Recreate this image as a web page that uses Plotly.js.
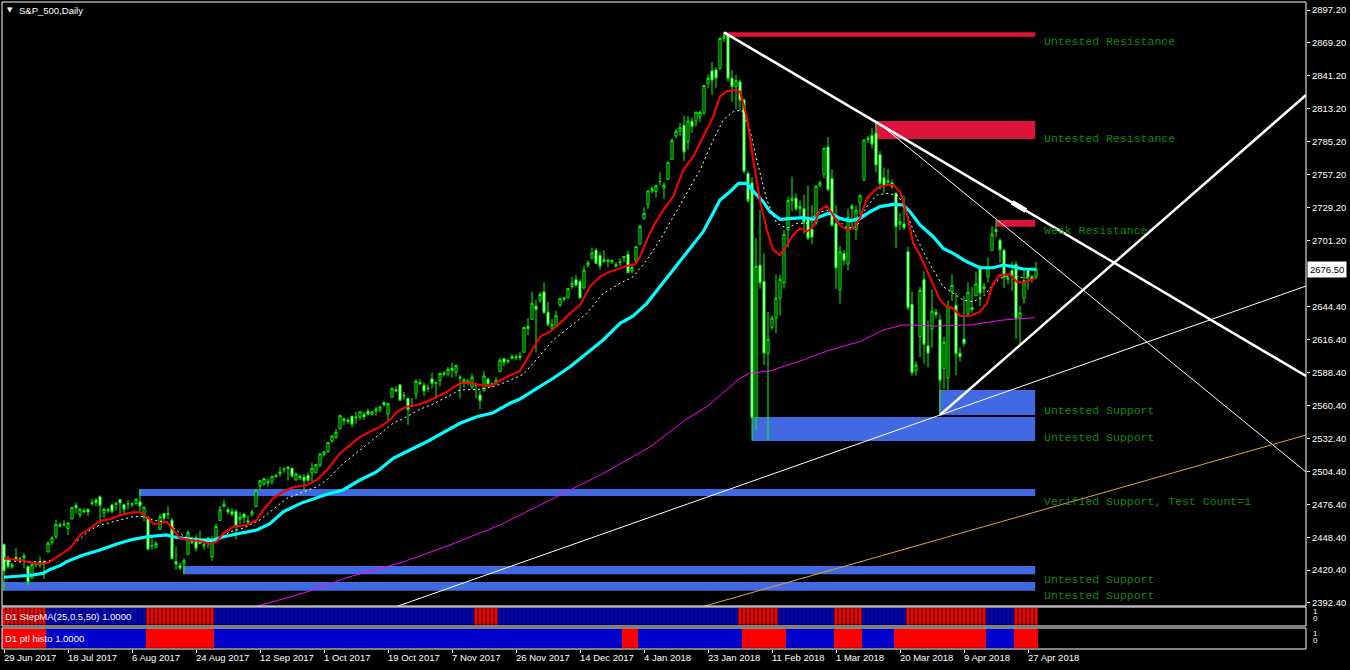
<!DOCTYPE html>
<html><head><meta charset="utf-8">
<script src="https://cdn.plot.ly/plotly-3.0.1.min.js"></script>
<style>html,body{margin:0;padding:0;background:#000;}#chart{width:1350px;height:670px;}</style>
</head><body><div id="chart"></div>
<script>
// ---------- DATA ----------
const openP = [
2442.4,2429.2,2423.0,2431.4,2429.0,2430.8,2423.4,2413.5,2425.0,2424.5,
2427.4,2435.8,2444.0,2449.2,2459.0,2459.5,2455.9,2463.9,2475.6,2467.4,
2471.0,2472.0,2477.9,2480.0,2482.8,2469.1,2471.0,2475.9,2477.1,2480.4,
2476.0,2476.9,2476.0,2477.1,2478.4,2465.4,2465.4,2441.0,2440.0,2455.0,
2468.7,2468.6,2462.9,2427.6,2424.0,2425.5,2433.8,2444.9,2447.9,2444.7,
2441.0,2447.4,2431.9,2446.1,2462.7,2474.4,2472.0,2470.0,2470.4,2463.8,
2468.1,2462.3,2468.0,2474.5,2491.9,2493.9,2494.6,2495.7,2500.0,2502.5,
2506.3,2506.8,2507.2,2497.3,2500.0,2499.4,2501.0,2503.3,2503.4,2509.9,
2519.0,2521.2,2530.3,2533.5,2540.9,2547.4,2548.0,2551.4,2550.0,2550.6,
2552.9,2555.7,2553.0,2555.6,2557.2,2562.9,2553.4,2567.6,2574.0,2578.1,
2568.7,2566.5,2560.1,2570.3,2580.0,2577.8,2575.0,2583.2,2579.5,2581.9,
2587.0,2587.5,2592.1,2588.7,2584.0,2580.2,2581.0,2576.5,2577.8,2569.5,
2573.0,2582.9,2578.0,2579.5,2589.2,2600.3,2598.0,2600.4,2601.0,2602.7,
2605.9,2627.8,2633.9,2645.1,2650.0,2657.2,2639.8,2626.2,2628.4,2646.2,
2651.0,2652.2,2661.7,2667.6,2665.9,2660.6,2680.0,2685.9,2692.7,2688.2,
2683.0,2684.2,2683.0,2679.1,2682.1,2686.1,2689.2,2675.0,2683.7,2697.9,
2719.3,2731.3,2743.0,2742.7,2751.2,2745.6,2753.0,2770.2,2790.0,2794.0,
2799.0,2785.0,2802.4,2802.6,2806.0,2809.2,2835.0,2845.4,2846.2,2847.5,
2873.0,2875.0,2839.0,2832.0,2836.0,2820.6,2758.0,2750.0,2550.0,2680.0,
2666.0,2605.0,2627.0,2635.0,2652.0,2665.0,2710.0,2735.0,2737.0,2728.0,
2728.0,2720.5,2710.4,2715.8,2748.0,2757.4,2780.5,2753.8,2715.2,2658.9,
2690.0,2681.0,2730.2,2710.2,2732.8,2752.9,2787.0,2790.5,2792.3,2774.1,
2754.3,2750.6,2750.0,2741.4,2715.0,2715.0,2691.4,2646.7,2590.0,2619.4,
2667.6,2611.3,2625.5,2640.0,2633.5,2592.2,2584.0,2657.4,2645.8,2605.0,
2617.2,2638.4,2643.9,2653.8,2676.9,2660.0,2670.1,2692.7,2710.1,2701.2,
2692.6,2668.0,2675.4,2680.8,2634.9,2651.7,2675.5,2668.0,2670.0];
const highP = [
2442.7,2432.7,2426.5,2439.2,2431.5,2434.9,2424.3,2426.9,2427.0,2432.0,
2429.3,2445.0,2449.3,2463.5,2461.0,2462.8,2460.9,2473.8,2477.6,2472.5,
2473.0,2473.1,2481.2,2481.7,2484.0,2473.5,2473.0,2477.0,2478.5,2480.4,
2476.3,2480.0,2478.0,2481.0,2489.5,2474.4,2465.4,2448.1,2445.0,2468.2,
2468.9,2474.9,2465.0,2440.3,2427.0,2430.6,2454.8,2448.9,2450.4,2454.0,
2444.0,2449.1,2449.2,2460.3,2475.0,2480.4,2474.0,2473.0,2472.0,2469.6,
2468.6,2467.1,2472.0,2489.0,2496.8,2498.4,2498.4,2500.2,2502.0,2508.3,
2507.8,2508.9,2507.2,2503.5,2502.0,2502.5,2503.5,2511.8,2510.8,2519.4,
2522.0,2529.2,2535.1,2540.5,2552.5,2549.4,2550.0,2551.8,2555.2,2555.2,
2555.3,2557.7,2556.0,2559.5,2559.7,2564.1,2562.4,2575.4,2577.0,2578.3,
2572.2,2567.4,2567.1,2583.0,2583.0,2580.0,2578.3,2588.4,2581.1,2588.4,
2590.0,2593.4,2597.0,2595.5,2586.5,2583.8,2583.0,2587.7,2579.7,2572.8,
2590.1,2584.0,2580.0,2584.6,2601.2,2600.9,2600.0,2604.2,2604.0,2606.4,
2627.7,2634.9,2657.7,2650.6,2657.0,2665.2,2648.7,2634.4,2641.0,2651.7,
2653.0,2660.3,2669.7,2671.9,2668.1,2679.6,2684.0,2695.0,2694.4,2691.0,
2692.6,2685.4,2685.0,2682.7,2685.6,2687.7,2692.1,2680.0,2695.9,2714.4,
2729.3,2743.5,2747.0,2748.5,2759.1,2750.8,2767.6,2787.9,2796.0,2801.0,
2807.5,2807.0,2805.8,2810.3,2812.0,2833.0,2842.2,2853.0,2848.6,2874.0,
2878.2,2876.5,2846.0,2842.0,2838.0,2822.0,2760.0,2755.0,2703.0,2727.0,
2690.0,2640.0,2637.0,2672.0,2672.0,2710.0,2738.0,2755.3,2741.0,2735.0,
2740.0,2747.8,2731.3,2747.8,2752.0,2780.0,2789.2,2761.5,2730.9,2696.3,
2693.0,2728.1,2732.1,2730.6,2740.5,2786.6,2790.0,2797.0,2802.7,2777.1,
2763.0,2761.9,2753.0,2741.4,2724.2,2739.1,2695.7,2657.7,2598.0,2661.4,
2674.8,2632.7,2659.4,2643.0,2638.3,2619.1,2649.9,2672.1,2656.9,2610.0,
2653.6,2665.5,2661.4,2674.7,2680.3,2665.0,2686.5,2713.3,2718.4,2702.8,
2693.9,2672.0,2682.9,2683.6,2645.3,2676.5,2677.4,2672.0,2682.9];
const lowP = [
2403.0,2421.6,2421.5,2428.7,2426.0,2422.2,2407.7,2413.5,2423.0,2422.3,
2412.8,2435.8,2441.7,2446.7,2457.0,2457.2,2450.3,2463.9,2468.4,2465.1,
2469.0,2466.3,2474.9,2474.9,2459.9,2464.7,2469.0,2468.5,2471.1,2466.5,
2468.9,2472.1,2474.0,2475.9,2470.3,2462.1,2437.8,2437.9,2439.0,2455.0,
2461.6,2463.9,2430.0,2420.7,2420.0,2417.0,2433.7,2442.4,2436.2,2442.2,
2438.0,2439.0,2428.2,2443.8,2462.7,2473.9,2468.0,2466.0,2446.6,2459.2,
2460.3,2459.4,2466.0,2474.5,2488.1,2492.1,2491.4,2493.2,2499.0,2499.9,
2503.2,2496.7,2499.0,2496.1,2497.0,2488.0,2495.0,2495.9,2502.9,2507.8,
2517.0,2520.4,2528.9,2531.8,2540.0,2543.8,2545.0,2541.8,2544.9,2548.0,
2548.3,2552.1,2552.0,2551.9,2554.7,2559.2,2547.9,2567.6,2572.0,2564.3,
2565.6,2544.0,2559.4,2565.9,2578.0,2568.4,2572.2,2574.9,2566.2,2576.8,
2585.0,2585.7,2584.1,2585.0,2566.3,2575.6,2578.0,2574.5,2566.6,2557.5,
2573.0,2576.0,2576.0,2578.2,2589.2,2593.9,2596.0,2600.4,2599.0,2598.9,
2605.4,2620.3,2633.9,2605.5,2648.0,2639.0,2627.7,2624.8,2628.4,2644.1,
2649.0,2651.5,2659.8,2662.9,2652.0,2659.1,2678.0,2685.9,2680.7,2676.1,
2682.4,2678.1,2681.0,2678.0,2678.9,2682.7,2673.6,2673.0,2682.4,2697.8,
2719.1,2727.9,2741.0,2737.6,2747.9,2736.1,2752.8,2769.6,2788.0,2790.0,
2768.6,2778.4,2792.6,2798.1,2802.0,2808.1,2830.6,2824.8,2830.9,2846.2,
2870.0,2836.0,2819.0,2813.0,2812.0,2758.0,2733.0,2530.5,2540.0,2660.0,
2595.0,2531.0,2625.0,2622.0,2637.0,2660.0,2695.0,2726.0,2726.0,2722.0,
2706.8,2701.3,2697.8,2714.0,2746.0,2753.8,2742.9,2713.5,2659.7,2647.3,
2680.0,2675.8,2711.3,2701.7,2722.7,2751.5,2784.0,2779.3,2758.7,2744.4,
2741.5,2749.0,2745.0,2694.6,2710.0,2709.8,2641.6,2585.9,2586.0,2601.8,
2596.1,2593.1,2609.7,2635.0,2552.5,2574.5,2573.6,2649.6,2586.3,2598.0,
2610.8,2635.8,2639.3,2653.8,2645.0,2656.0,2665.2,2692.0,2703.6,2681.9,
2660.6,2664.0,2657.9,2617.3,2612.7,2647.2,2659.0,2665.0,2668.0];
const closeP = [
2419.7,2423.4,2425.0,2429.0,2430.0,2432.5,2409.8,2425.2,2426.0,2427.4,
2425.5,2443.3,2447.8,2459.3,2458.0,2459.1,2460.6,2473.8,2473.5,2472.5,
2470.0,2469.9,2477.1,2477.8,2475.4,2472.1,2472.0,2470.3,2476.4,2477.6,
2472.2,2476.8,2477.0,2480.9,2474.9,2474.0,2438.2,2441.3,2443.0,2465.8,
2464.6,2468.1,2430.0,2425.6,2422.0,2428.4,2452.5,2444.0,2439.0,2443.0,
2442.0,2444.2,2446.3,2457.6,2471.7,2476.6,2470.0,2468.0,2457.9,2465.5,
2465.1,2461.4,2470.0,2488.1,2496.5,2498.4,2495.6,2500.2,2501.0,2503.9,
2506.7,2508.2,2500.6,2502.2,2499.0,2496.7,2496.8,2507.0,2510.1,2519.4,
2521.0,2529.1,2534.6,2537.7,2552.1,2549.3,2547.0,2544.7,2550.6,2555.2,
2550.9,2553.2,2555.0,2557.6,2559.4,2561.3,2562.1,2575.2,2573.0,2565.0,
2569.1,2557.2,2560.4,2581.1,2579.0,2572.8,2575.3,2579.4,2579.9,2587.8,
2588.0,2591.1,2590.6,2594.4,2584.6,2582.3,2580.0,2584.8,2578.9,2564.6,
2585.6,2578.9,2579.0,2582.1,2599.0,2597.1,2599.0,2602.4,2602.0,2601.4,
2627.0,2626.1,2647.6,2642.2,2655.0,2639.4,2629.6,2629.3,2637.0,2651.5,
2652.0,2660.0,2664.1,2662.9,2652.0,2675.8,2682.0,2690.2,2681.5,2679.3,
2684.6,2683.3,2684.0,2680.5,2682.6,2687.5,2673.6,2678.0,2695.8,2713.1,
2724.0,2743.2,2745.0,2747.7,2751.3,2748.2,2767.6,2786.2,2794.0,2797.0,
2776.4,2802.6,2798.0,2810.3,2810.0,2833.0,2839.1,2837.5,2839.3,2873.0,
2875.0,2839.0,2832.0,2837.0,2820.6,2760.0,2735.0,2550.0,2679.0,2665.0,
2605.0,2617.0,2635.0,2652.0,2668.0,2706.0,2735.0,2737.0,2728.0,2730.0,
2716.3,2703.0,2704.0,2747.3,2750.0,2779.6,2744.3,2713.8,2677.7,2691.3,
2684.0,2720.9,2728.1,2726.8,2739.0,2786.6,2788.0,2783.0,2765.3,2749.5,
2747.3,2752.0,2747.0,2712.9,2716.9,2711.9,2643.7,2588.3,2595.0,2658.6,
2612.6,2605.0,2640.9,2638.0,2581.9,2614.5,2644.7,2662.8,2604.5,2602.0,
2613.2,2656.9,2642.2,2664.0,2656.3,2662.0,2677.8,2706.4,2708.6,2693.1,
2670.1,2669.0,2670.3,2634.6,2639.4,2666.9,2669.9,2670.0,2676.5];

const dateLabels = ['29 Jun 2017','18 Jul 2017','6 Aug 2017','24 Aug 2017','12 Sep 2017','1 Oct 2017',
  '19 Oct 2017','7 Nov 2017','26 Nov 2017','14 Dec 2017','4 Jan 2018','23 Jan 2018','11 Feb 2018',
  '1 Mar 2018','20 Mar 2018','9 Apr 2018','27 Apr 2018'];
const dateLabelBars = [0,16,32,48,64,80,96,112,128,144,160,176,192,208,224,240,256];
const priceTicks = [2897.2,2869.2,2841.2,2813.2,2785.2,2757.2,2729.2,2701.2,2644.4,2616.4,
  2588.4,2560.4,2532.4,2504.4,2476.4,2448.4,2420.4,2392.4];
const lastPrice = 2676.5;

// moving averages read at sample bars
const redBars = [0,2.3,4.8,7.3,9.8,11.5,14,16.5,19,21.5,24,26.5,29,32.3,34,35.7,37.3,39,40.7,42.3,44,46.5,49,51.5,53.2,54.8,57.3,60.7,63.2,64.8,67.3,69.8,72.3,75.7,78.2,80.7,84,86.5,89,91.5,94,96.5,98.2,100.7,103.2,105.7,108.2,110.7,114,116.5,119,121.5,123.2,125.7,129,131.5,134,136.5,139,141.5,144,146.5,149,151.5,154,156.5,157.75,159,160.7,162.3,164.8,167.3,169.8,172.3,174.8,177.3,179,180.7,183.2,184,185.7,187.3,189,190.7,192.3,194,195.7,197.3,199,200.7,202.3,204,205.7,207.3,209,210.7,212.3,214,215.7,218.2,220.7,222.3,224,225.7,227.3,229,230.7,232.3,234,235.7,237.3,239,241.5,244,245.7,247.3,249,251.5,253.2,254.8,256.5,257.75];
const redVals = [2430.4,2429.6,2428.4,2426.2,2425.6,2427.6,2433.3,2439,2450.3,2456,2462.5,2463.7,2467.3,2469.6,2469.6,2465.9,2459.7,2460.2,2461.6,2454.5,2447.5,2446,2445.2,2442.6,2444.6,2451.7,2457.4,2458.8,2463.1,2471.6,2481.5,2487.1,2490.9,2492.8,2497.1,2505.6,2519.8,2526.8,2533.9,2538.2,2542.4,2548.2,2555.2,2559.5,2560.9,2563.7,2568,2572.2,2579.4,2579.9,2577.9,2577.1,2579.9,2585,2590,2604,2619.1,2623.3,2630.5,2639,2646.1,2661.7,2670.2,2674.5,2677.3,2680.1,2680.7,2687.2,2701.4,2712.7,2726.9,2738.3,2761,2772.3,2789.3,2806.4,2823.4,2828.2,2829.1,2827.6,2806.4,2769.5,2735,2710,2693,2688.6,2697.1,2705.7,2711.4,2708.5,2712.7,2727,2730.4,2722.7,2714.2,2709.9,2711.4,2719.9,2736.9,2745.4,2748.2,2748.2,2742.5,2724.1,2698.6,2688.6,2675.9,2664.5,2650.3,2644.6,2643.3,2636.7,2636.7,2640.4,2647.5,2664.5,2671.6,2672.2,2665.9,2665.1,2667.4,2668.8];
const dashBars = [0,1.5,5.7,10.7,13.2,15.7,18.2,21.5,24,28.2,32.3,34.8,37.3,40.7,43.2,45.7,49,53.2,56.5,59.8,64,66.5,70.7,74,78.2,80.7,84.8,89,93.2,97.3,100.7,104,107.3,110.7,114,119,122.3,125.7,129.8,133.2,137.3,141.5,145.7,149.8,154,157.3,160.7,164,167.3,170.7,174,177.3,179.8,182.3,184.4,186.5,188.2,190.7,193.2,195.7,198.2,200.7,203.2,205.7,208.2,210.7,213.2,215.7,218.2,220.7,223.2,224.8,227.3,229.8,232.3,234.8,237.3,239.8,242.3,244.8,246.5,249,251.5,254,256.5,257.75];
const dashVals = [2428.3,2428.1,2427.5,2427.5,2430.9,2437.5,2444.6,2454.5,2458.8,2462.5,2465.9,2465.9,2463.1,2460.8,2454.5,2447.5,2446,2444.6,2453.1,2456,2463.1,2470.2,2481.5,2485.8,2491.4,2497.1,2511.3,2522.6,2533.9,2545.4,2551,2557.3,2561.8,2568,2573.7,2574.3,2576.6,2580.8,2587,2600,2616.3,2627.6,2639,2656,2664.5,2670.2,2684.4,2701.4,2721.3,2741.1,2761,2786.5,2803.6,2810.6,2812.1,2795,2769.5,2735.5,2715.6,2711.4,2715.6,2715.6,2724.1,2726.9,2719.9,2711.4,2712.7,2729.8,2739.7,2741.1,2739.7,2732.6,2709.9,2691.5,2675.9,2661.7,2656,2650.3,2648.9,2653.2,2660.3,2668.8,2670.8,2669.8,2668.8,2669.6];
const cyanBars = [0,4,7.3,9.8,11.5,14,15.7,19.8,24,28.2,32.3,35.7,39,40.7,42.3,44.8,49,52.3,54.8,59,63.2,66.5,69.8,74,78.2,80.7,84.8,89,93.2,97.3,101.5,105.7,109.8,114,118.2,122.3,126.5,129,133.2,137.3,141.5,145.7,149.8,154,157.3,160.7,164,166.5,170.7,174.8,179,181.5,183.6,185.7,187.3,189.8,191.5,194,197.3,199.8,202.3,204.8,206.5,209,211.5,214,216.5,219,222.3,224.8,226.5,229,232.3,234.8,237.3,240.7,244,247.3,249.8,252.3,254.8,258];
const cyanVals = [2414.3,2415.4,2416.2,2417.7,2421,2424.2,2427.6,2433.3,2437.5,2442.6,2446.6,2448.8,2449.4,2450.3,2448.8,2447.5,2446,2446,2448.8,2451.7,2454.5,2460,2470,2477,2482,2485,2488.6,2497.1,2504.2,2515.6,2522.6,2529.7,2537.4,2545.4,2551,2554.4,2562.4,2566,2575.1,2583.7,2593.5,2604.9,2616.3,2630.5,2636.7,2647.5,2661.7,2673.1,2690.1,2708.5,2735.5,2742.5,2749.6,2749.6,2743,2734,2725.5,2719,2719.8,2720.4,2719,2722.7,2724.6,2719.8,2717.8,2719.8,2725.5,2729.8,2731.8,2731.2,2725.5,2714.2,2704.2,2694.3,2690.1,2682.9,2677.8,2677.8,2680.1,2678.7,2676.7,2676.5];
const magentaBars = [60,64.4,75,86.5,99,111.5,124,136.5,149,161.5,170.3,175.7,180.7,184,186.5,191.5,199.8,206.5,214,219.8,224.8,233.2,241.5,249.8,257.8];
const magentaVals = [2386,2390.7,2401,2414.8,2426.4,2441.8,2458.8,2480,2501.3,2525.2,2548.2,2559.5,2573.7,2583.7,2588,2589.9,2599.3,2607.8,2614.9,2624.8,2629.1,2628.2,2629.1,2633.3,2635.3];

// indicator sub-windows: runs of bars that are red (others are blue)
const stepRedRuns = [[0,10],[36,52],[118,123],[184,193],[208,214],[226,245],[253,258]];
const ptlRedRuns  = [[0,10],[36,52],[155,158],[185,195],[208,214],[223,245],[253,258]];
const histValue = 1.0;

// supply / demand zones
const zoneStart  = [179.75,217.75,248,233.75,187,33.75,44.75,-0.25];
const zoneEnd    = [257.8,257.8,257.8,257.8,257.8,257.8,257.8,257.8];
const zoneTop    = [2878.2,2802.7,2718.4,2573.7,2550.7,2489.4,2423.9,2410.3];
const zoneBottom = [2874.5,2787.4,2712.7,2552.4,2530.3,2483.5,2416.8,2402.9];
const zoneKind   = ['res','res','res','sup','sup','sup','sup','sup'];
const zoneLabels = ['Untested Resistance','Untested Resistance','Weak Resistance','Untested Support',
  'Untested Support','Verified Support, Test Count=1','Untested Support','Untested Support'];
const zoneLabelPrice = [2870.0,2788.2,2709.1,2556.1,2533.7,2479.2,2412.8,2399.1];

// trend lines [x0, y0, x1, y1] in bars / price
const trendThick = [[180,2878.2,325.5,2585.6],[234,2552.4,325.5,2824.8]];
const trendThin  = [[218,2802.7,325.5,2503.9],[90,2379.6,325.5,2662.2]];
const trendOrange = [[160,2375.1,325.5,2535.4]];
const trendMark = [[252,2733.4,255.5,2726.4]];

// ---------- BUILD ----------
const bars = openP.map((_, i) => i);
function runColors(runs){
  return bars.map(i => runs.some(r => i >= r[0] && i <= r[1]) ? '#FF0000' : '#0000CD');
}
const stepColors = runColors(stepRedRuns);
const ptlColors = runColors(ptlRedRuns);
const histY = bars.map(() => histValue);

const traces = [
  {type:'candlestick', x: bars, open: openP, high: highP, low: lowP, close: closeP,
   xaxis:'x', yaxis:'y', whiskerwidth:0,
   increasing:{line:{color:'#00FF00', width:1}, fillcolor:'#000000'},
   decreasing:{line:{color:'#00FF00', width:1}, fillcolor:'#FFFFFF'},
   hoverinfo:'skip'},
  {type:'scatter', mode:'lines', x: magentaBars, y: magentaVals, line:{color:'#FF00FF', width:1}, hoverinfo:'skip'},
  {type:'scatter', mode:'lines', x: cyanBars, y: cyanVals, line:{color:'#00FFFF', width:3.2}, hoverinfo:'skip'},
  {type:'scatter', mode:'lines', x: dashBars, y: dashVals, line:{color:'#FFFFFF', width:1, dash:'2px,3px'}, hoverinfo:'skip'},
  {type:'scatter', mode:'lines', x: redBars, y: redVals, line:{color:'#FF0000', width:2}, hoverinfo:'skip'},
  {type:'bar', x: bars, y: histY, base: 0, width: 0.75, marker:{color: stepColors, line:{width:0}}, xaxis:'x', yaxis:'y2', hoverinfo:'skip'},
  {type:'bar', x: bars, y: histY, base: 0, width: 1.0, marker:{color: ptlColors, line:{width:0}}, xaxis:'x', yaxis:'y3', hoverinfo:'skip'}
];

const shapes = [];
zoneStart.forEach((x0, k) => {
  shapes.push({type:'rect', xref:'x', yref:'y', x0: x0, x1: zoneEnd[k], y0: zoneBottom[k], y1: zoneTop[k],
    fillcolor: zoneKind[k] === 'res' ? '#DC143C' : '#4169E1', line:{width:0}, layer:'below'});
});
trendThick.forEach(t => shapes.push({type:'line', xref:'x', yref:'y', x0:t[0], y0:t[1], x1:t[2], y1:t[3], line:{color:'#FFFFFF', width:2.5}, layer:'above'}));
trendThin.forEach(t => shapes.push({type:'line', xref:'x', yref:'y', x0:t[0], y0:t[1], x1:t[2], y1:t[3], line:{color:'#FFFFFF', width:1}, layer:'above'}));
trendOrange.forEach(t => shapes.push({type:'line', xref:'x', yref:'y', x0:t[0], y0:t[1], x1:t[2], y1:t[3], line:{color:'#E8A030', width:1}, layer:'above'}));
trendMark.forEach(t => shapes.push({type:'line', xref:'x', yref:'y', x0:t[0], y0:t[1], x1:t[2], y1:t[3], line:{color:'#FFFFFF', width:5}, layer:'above'}));
// panel frames
['y domain','y2 domain','y3 domain'].forEach(r => {
  shapes.push({type:'rect', xref:'x domain', yref:r, x0:0, x1:1, y0:0, y1:1, line:{color:'#FFFFFF', width:1}, fillcolor:'rgba(0,0,0,0)', layer:'above'});
});

const FONT = 'Liberation Sans, Arial, sans-serif';
const annotations = [];
zoneLabels.forEach((t, k) => annotations.push({xref:'x', yref:'y', x: 260.25, y: zoneLabelPrice[k], text: t,
  xanchor:'left', yanchor:'middle', showarrow:false, xshift:-3,
  font:{family:'Liberation Mono, Courier New, monospace', size:11.5, color:'#0E8A0E'}}));
dateLabels.forEach((t, k) => annotations.push({xref:'x', yref:'paper', x: dateLabelBars[k], y: -0.0139, text: t,
  xanchor:'left', yanchor:'middle', showarrow:false, xshift:-2, font:{family:FONT, size:9.5, color:'#FFFFFF'}}));
annotations.push({xref:'paper', yref:'y', x:1, y:lastPrice, text: lastPrice.toFixed(2), xanchor:'left', yanchor:'middle',
  xshift:1, showarrow:false, bgcolor:'#FFFFFF', borderpad:2, font:{family:FONT, size:9.5, color:'#000000'}});
annotations.push({xref:'paper', yref:'paper', x:0.0025, y:0.9876, text:'\u25BC', xanchor:'left', yanchor:'middle', showarrow:false, font:{family:'DejaVu Sans', size:7, color:'#FFFFFF'}});
annotations.push({xref:'paper', yref:'paper', x:0.0115, y:0.9876, text:'S&amp;P_500,Daily', xanchor:'left', yanchor:'middle', showarrow:false, font:{family:FONT, size:9.5, color:'#FFFFFF'}});
annotations.push({xref:'paper', yref:'paper', x:0.001, y:0.0495, text:'D1 StepMA(25,0.5,50) 1.0000', xanchor:'left', yanchor:'middle', showarrow:false, font:{family:FONT, size:9.5, color:'#FFFFFF'}});
annotations.push({xref:'paper', yref:'paper', x:0.001, y:0.0170, text:'D1 ptl histo 1.0000', xanchor:'left', yanchor:'middle', showarrow:false, font:{family:FONT, size:9.5, color:'#FFFFFF'}});
[[0.0572,'1'],[0.0464,'0'],[0.0232,'1'],[0.0124,'0']].forEach(a => annotations.push({xref:'paper', yref:'paper', x:1.0035, y:a[0], text:a[1], xanchor:'left', yanchor:'middle', showarrow:false, font:{family:FONT, size:8, color:'#FFFFFF'}}));

const layout = {
  width:1350, height:670,
  margin:{l:2, r:44, t:2, b:21, pad:0},
  paper_bgcolor:'#000000', plot_bgcolor:'#000000',
  showlegend:false, boxgap:0.25, barmode:'overlay',
  font:{family:FONT, size:9.5, color:'#FFFFFF'},
  xaxis:{domain:[0,1], anchor:'y3', range:[-0.5,325.5], showgrid:false, zeroline:false, showline:false,
    tickvals: dateLabelBars, ticks:'outside', ticklen:3, tickcolor:'#FFFFFF', tickwidth:1, showticklabels:false,
    rangeslider:{visible:false}, fixedrange:true},
  yaxis:{domain:[0.066461,1], anchor:'x', side:'right', range:[2389.84,2904.01], showgrid:false, zeroline:false, showline:false,
    tickvals: priceTicks, ticktext: priceTicks.map(v => v.toFixed(2)), ticks:'outside', ticklen:3, tickcolor:'#FFFFFF',
    tickfont:{family:FONT, size:9.5, color:'#FFFFFF'}, fixedrange:true},
  yaxis2:{domain:[0.035549,0.064915], anchor:'x', range:[-0.08,1.06], showgrid:false, zeroline:false, showticklabels:false, ticks:'', fixedrange:true},
  yaxis3:{domain:[0,0.032457], anchor:'x', range:[-0.06,1.04], showgrid:false, zeroline:false, showticklabels:false, ticks:'', fixedrange:true},
  shapes: shapes, annotations: annotations
};
Plotly.newPlot('chart', traces, layout, {displayModeBar:false, staticPlot:true});
</script></body></html>
